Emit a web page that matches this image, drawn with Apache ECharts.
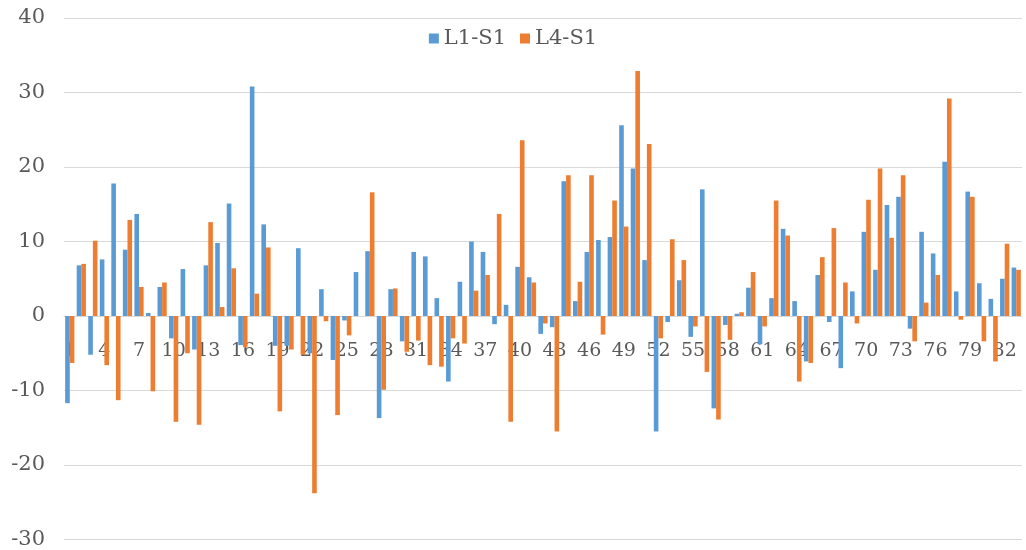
<!DOCTYPE html>
<html>
<head>
<meta charset="utf-8">
<script src="https://cdn.jsdelivr.net/npm/echarts@6/dist/echarts.min.js"></script>
<style>
  html, body { margin: 0; padding: 0; background: #ffffff; }
  #chart { width: 1026px; height: 550px; }
</style>
</head>
<body>
<div id="chart"></div>
<script>
// Category labels (sample index 1..83)
const categories = [
  '1','2','3','4','5','6','7','8','9','10',
  '11','12','13','14','15','16','17','18','19','20',
  '21','22','23','24','25','26','27','28','29','30',
  '31','32','33','34','35','36','37','38','39','40',
  '41','42','43','44','45','46','47','48','49','50',
  '51','52','53','54','55','56','57','58','59','60',
  '61','62','63','64','65','66','67','68','69','70',
  '71','72','73','74','75','76','77','78','79','80',
  '81','82','83'
];

const seriesNames = ['L1-S1', 'L4-S1'];

// L1-S1 values
const l1s1 = [
  -11.7, 6.8, -5.2, 7.6, 17.8, 8.9, 13.7, 0.4, 3.9, -3.0,
  6.3, -4.5, 6.8, 9.8, 15.1, -3.9, 30.8, 12.3, -4.0, -4.0,
  9.1, -5.0, 3.6, -5.9, -0.6, 5.9, 8.7, -13.7, 3.6, -3.4,
  8.6, 8.0, 2.4, -8.8, 4.6, 10.0, 8.6, -1.1, 1.5, 6.6,
  5.2, -2.4, -1.5, 18.1, 2.0, 8.6, 10.2, 10.6, 25.6, 19.8,
  7.5, -15.5, -0.8, 4.8, -2.8, 17.0, -12.4, -1.2, 0.3, 3.8,
  -3.8, 2.4, 11.7, 2.0, -6.1, 5.5, -0.8, -7.0, 3.3, 11.3,
  6.2, 14.9, 16.0, -1.7, 11.3, 8.4, 20.7, 3.3, 16.7, 4.4,
  2.3, 5.0, 6.5
];

// L4-S1 values
const l4s1 = [
  -6.3, 7.0, 10.1, -6.6, -11.3, 12.9, 3.9, -10.1, 4.5, -14.2,
  -5.0, -14.6, 12.6, 1.2, 6.4, -4.2, 3.0, 9.2, -12.8, -4.5,
  -5.2, -23.8, -0.7, -13.3, -2.6, 0.0, 16.6, -9.9, 3.7, -4.8,
  -3.3, -6.6, -6.8, -3.0, -3.7, 3.4, 5.5, 13.7, -14.2, 23.6,
  4.5, -1.0, -15.5, 18.9, 4.6, 18.9, -2.5, 15.5, 12.0, 32.9,
  23.1, -3.0, 10.3, 7.5, -1.4, -7.5, -13.9, -3.2, 0.5, 5.9,
  -1.4, 15.5, 10.8, -8.8, -6.3, 7.9, 11.8, 4.5, -1.0, 15.6,
  19.8, 10.5, 18.9, -3.4, 1.8, 5.5, 29.2, -0.5, 16.0, -3.4,
  -6.1, 9.7, 6.2
];

// Value axis range
const yMin = -30;
const yMax = 40;
const yStep = 10;

const textColor = '#595959';
const gridColor = '#d9d9d9';
const fontFamily = '"DejaVu Serif", "Liberation Serif", serif';

// Plot area
const W = 1026, H = 550;
const grid = { left: 64, right: 4, top: 18, bottom: 10 };
const plotH = H - grid.top - grid.bottom;
// Lift the category axis from the bottom edge up to the value 0
const zeroOffset = -((0 - yMin) / (yMax - yMin)) * plotH;

const chart = echarts.init(document.getElementById('chart'), null, { renderer: 'canvas' });

chart.setOption({
  backgroundColor: '#ffffff',
  animation: false,
  color: ['#5B9BD5', '#ED7D31'],
  legend: {
    top: 23,
    left: 'center',
    icon: 'rect',
    itemWidth: 10,
    itemHeight: 10,
    itemGap: 14,
    textStyle: { color: textColor, fontSize: 21, fontFamily: fontFamily }
  },
  grid: Object.assign({ containLabel: false }, grid),
  xAxis: {
    type: 'category',
    data: categories,
    position: 'bottom',
    offset: zeroOffset,
    axisLine: { show: true, onZero: false, lineStyle: { color: gridColor } },
    axisTick: { show: false },
    axisLabel: {
      interval: 2,
      margin: 26,
      color: textColor,
      fontSize: 19,
      fontFamily: fontFamily
    },
    splitLine: { show: false }
  },
  yAxis: {
    type: 'value',
    min: yMin,
    max: yMax,
    interval: yStep,
    axisLine: { show: false },
    axisTick: { show: false },
    axisLabel: { color: textColor, fontSize: 21, fontFamily: fontFamily, margin: 19 },
    splitLine: { lineStyle: { color: gridColor, width: 1 } }
  },
  series: [
    {
      name: seriesNames[0],
      type: 'bar',
      data: l1s1,
      barGap: '0%',
      barCategoryGap: '20%',
      z: 3
    },
    {
      name: seriesNames[1],
      type: 'bar',
      data: l4s1,
      barGap: '0%',
      barCategoryGap: '20%',
      z: 3
    }
  ]
});
</script>
</body>
</html>
